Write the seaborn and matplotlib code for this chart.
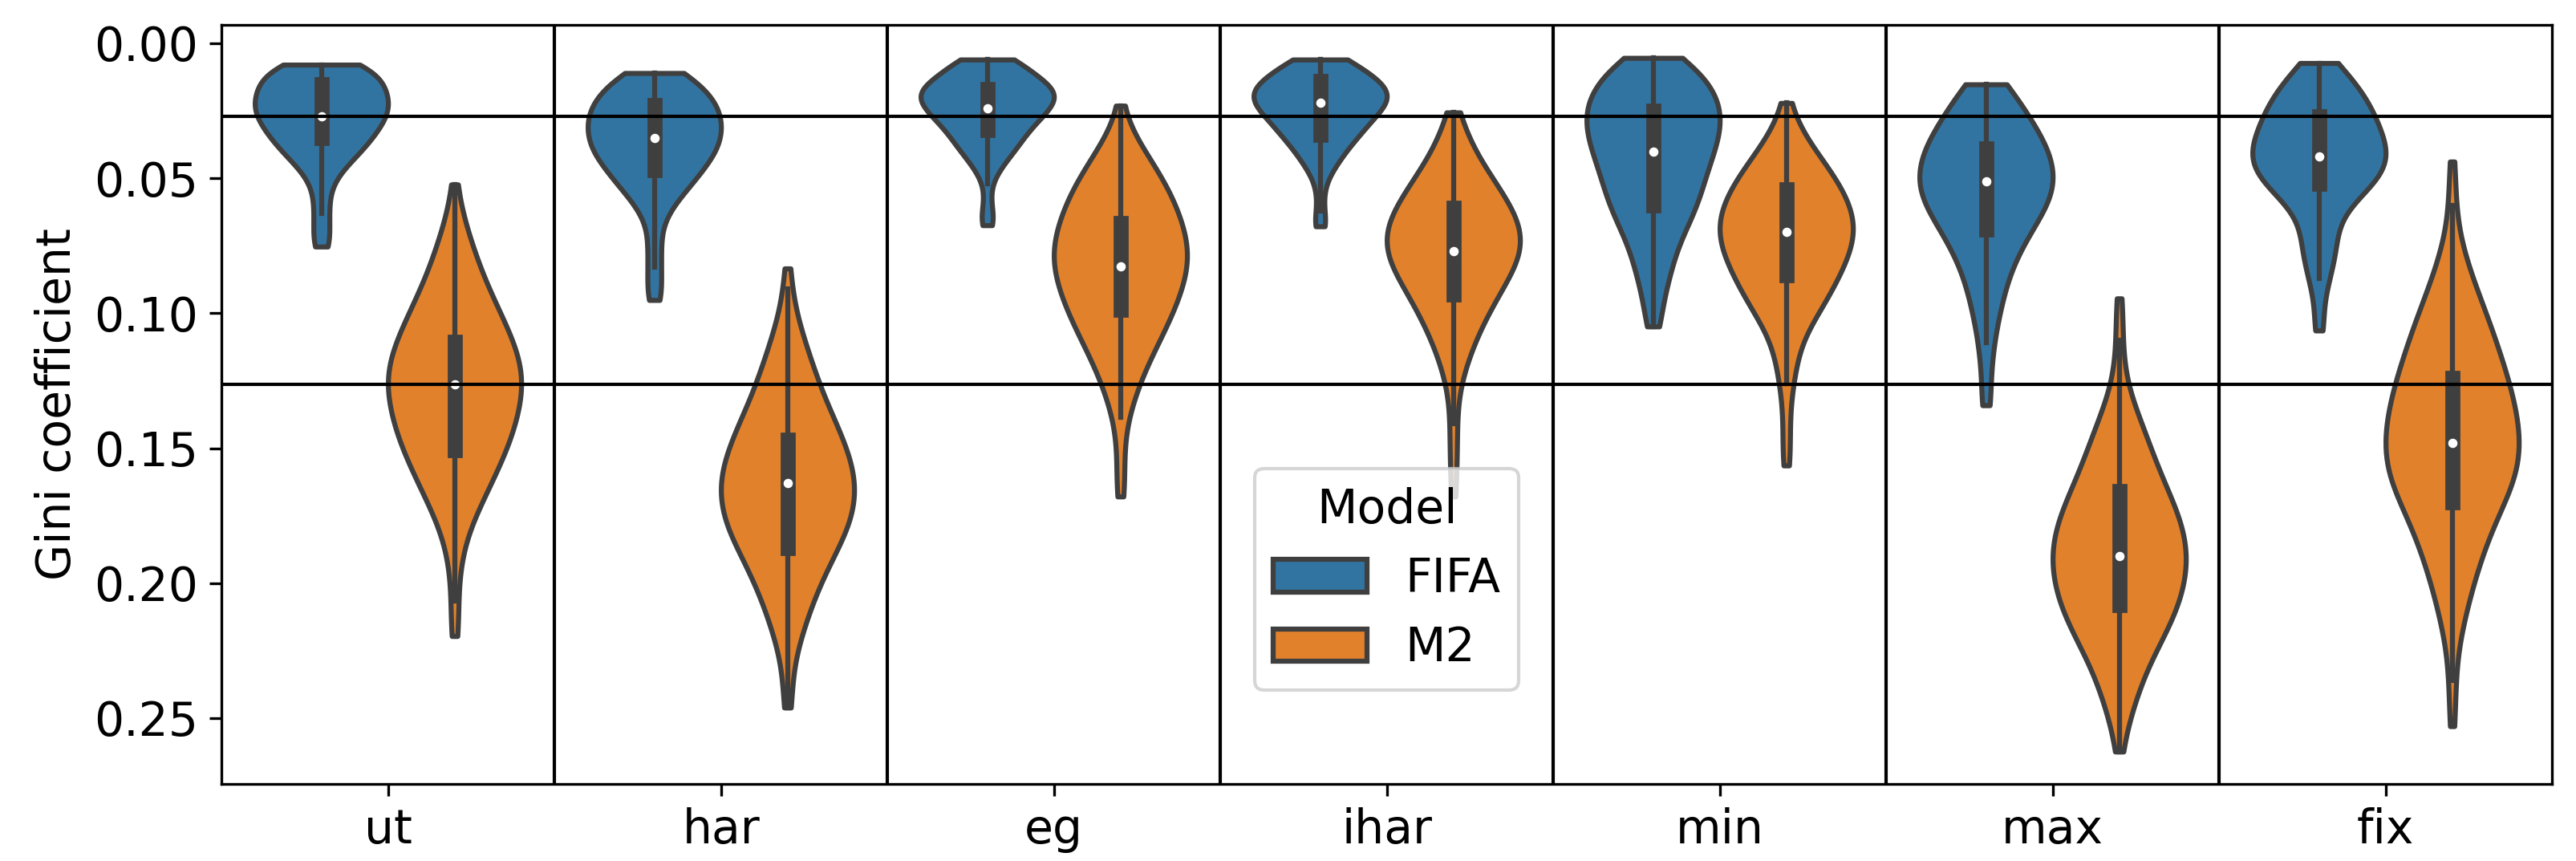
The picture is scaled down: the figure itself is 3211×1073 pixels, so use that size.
import numpy as np
import pandas as pd
import matplotlib.pyplot as plt
import seaborn as sns

# category order on the x axis
rules = ["ut", "har", "eg", "ihar", "min", "max", "fix"]
models = ["FIFA", "M2"]

# Gini coefficients: value grid + how many runs sit at each value
ut_fifa_vals = [0.0079, 0.0111, 0.0151, 0.0191, 0.0231, 0.0271, 0.0311, 0.0351, 0.0391, 0.0431,
                0.0471, 0.0511, 0.0551, 0.0591, 0.0631, 0.0671, 0.0711, 0.0753]
ut_fifa_counts = [12, 14, 16, 17, 18, 17, 15, 13, 11, 8, 5, 3, 2, 2, 2, 2, 2, 3]
ut_m2_vals = [0.0523, 0.0626, 0.0706, 0.0786, 0.0866, 0.0946, 0.1026, 0.1106, 0.1186, 0.1264, 0.1346,
              0.1426, 0.1506, 0.1586, 0.1666, 0.1746, 0.1826, 0.1906, 0.1986, 0.2066, 0.2146, 0.2196]
ut_m2_counts = [1, 2, 4, 6, 8, 11, 14, 17, 19, 20, 19, 17, 15, 12, 9, 6, 3, 2, 1, 1, 1, 1]

har_fifa_vals = [0.011, 0.015, 0.019, 0.023, 0.027, 0.031, 0.035, 0.039, 0.043, 0.047, 0.051,
                 0.055, 0.059, 0.063, 0.067, 0.071, 0.075, 0.079, 0.083, 0.087, 0.091, 0.0951]
har_fifa_counts = [12, 13, 17, 19, 20, 20, 20, 19, 17, 14, 12, 9, 6, 4, 2, 2, 2, 2, 2, 2, 2, 3]
har_m2_vals = [0.0834, 0.091, 0.099, 0.107, 0.115, 0.123, 0.131, 0.139, 0.147, 0.155, 0.163,
               0.171, 0.179, 0.187, 0.195, 0.203, 0.211, 0.219, 0.227, 0.235, 0.243, 0.2461]
har_m2_counts = [1, 1, 2, 4, 6, 8, 10, 13, 16, 18, 20, 19, 18, 14, 11, 8, 6, 4, 2, 1, 1, 1]

eg_fifa_vals = [0.006, 0.0095, 0.0135, 0.017, 0.0205, 0.0242, 0.028, 0.032, 0.036, 0.040, 0.044,
                0.048, 0.052, 0.056, 0.060, 0.064, 0.0674]
eg_fifa_counts = [9, 11, 15, 18, 19, 17, 15, 12, 10, 8, 5, 3, 1, 1, 1, 2, 2]
eg_m2_vals = [0.0231, 0.0346, 0.0426, 0.0506, 0.0586, 0.0666, 0.0746, 0.0826, 0.0906, 0.0986,
              0.1066, 0.1146, 0.1226, 0.1306, 0.1386, 0.1466, 0.1546, 0.1626, 0.1679]
eg_m2_counts = [1, 4, 8, 12, 15, 17, 19, 19, 17, 15, 12, 9, 6, 4, 2, 1, 1, 1, 1]

ihar_fifa_vals = [0.006, 0.010, 0.014, 0.018, 0.022, 0.026, 0.030, 0.034, 0.038, 0.042, 0.046,
                  0.050, 0.054, 0.058, 0.062, 0.066, 0.0678]
ihar_fifa_counts = [9, 12, 17, 20, 19, 16, 13, 11, 8, 6, 4, 2, 1, 1, 1, 1, 2]
ihar_m2_vals = [0.0256, 0.031, 0.037, 0.045, 0.053, 0.061, 0.069, 0.077, 0.085, 0.093, 0.101,
                0.109, 0.117, 0.125, 0.133, 0.141, 0.149, 0.157, 0.1679]
ihar_m2_counts = [1, 2, 4, 8, 12, 16, 19, 19, 16, 12, 9, 6, 4, 2, 1, 1, 1, 1, 1]

min_fifa_vals = [0.0054, 0.010, 0.015, 0.020, 0.025, 0.030, 0.035, 0.040, 0.045, 0.050, 0.055,
                 0.060, 0.065, 0.070, 0.075, 0.080, 0.085, 0.090, 0.095, 0.100, 0.1049]
min_fifa_counts = [10, 13, 17, 19, 20, 20, 19, 18, 16, 15, 14, 13, 11, 9, 7, 6, 5, 4, 3, 2, 3]
min_m2_vals = [0.0221, 0.030, 0.038, 0.046, 0.054, 0.062, 0.070, 0.078, 0.086, 0.094, 0.102,
               0.110, 0.118, 0.126, 0.134, 0.142, 0.150, 0.1564]
min_m2_counts = [1, 3, 7, 12, 16, 19, 20, 18, 15, 12, 8, 4, 3, 2, 1, 1, 1, 1]

max_fifa_vals = [0.0152, 0.021, 0.027, 0.033, 0.039, 0.045, 0.051, 0.057, 0.063, 0.069, 0.075,
                 0.081, 0.087, 0.093, 0.099, 0.105, 0.111, 0.117, 0.123, 0.129, 0.1341]
max_fifa_counts = [7, 9, 12, 15, 18, 19, 20, 19, 16, 13, 10, 8, 6, 5, 4, 3, 2, 2, 1, 1, 2]
max_m2_vals = [0.0945, 0.102, 0.110, 0.118, 0.126, 0.134, 0.142, 0.150, 0.158, 0.166, 0.174,
               0.182, 0.190, 0.198, 0.206, 0.214, 0.222, 0.230, 0.238, 0.246, 0.254, 0.2624]
max_m2_counts = [1, 1, 1, 1, 2, 4, 7, 9, 11, 14, 17, 19, 20, 19, 18, 15, 12, 8, 6, 4, 2, 1]

fix_fifa_vals = [0.0073, 0.012, 0.017, 0.022, 0.027, 0.032, 0.037, 0.042, 0.047, 0.052, 0.057,
                 0.062, 0.067, 0.072, 0.077, 0.082, 0.087, 0.092, 0.097, 0.102, 0.1064]
fix_fifa_counts = [6, 8, 12, 14, 16, 17, 19, 20, 19, 16, 11, 7, 5, 5, 5, 4, 3, 2, 1, 1, 2]
fix_m2_vals = [0.0438, 0.052, 0.060, 0.068, 0.076, 0.084, 0.092, 0.100, 0.108, 0.116, 0.124,
               0.132, 0.140, 0.148, 0.156, 0.164, 0.172, 0.180, 0.188, 0.196, 0.204, 0.212,
               0.220, 0.228, 0.236, 0.244, 0.2530]
fix_m2_counts = [1, 1, 1, 1, 3, 5, 7, 10, 12, 14, 16, 18, 19, 20, 20, 18, 14, 11, 9, 7, 5, 4,
                 2, 1, 1, 1, 1]

runs = {
    ("ut", "FIFA"): (ut_fifa_vals, ut_fifa_counts), ("ut", "M2"): (ut_m2_vals, ut_m2_counts),
    ("har", "FIFA"): (har_fifa_vals, har_fifa_counts), ("har", "M2"): (har_m2_vals, har_m2_counts),
    ("eg", "FIFA"): (eg_fifa_vals, eg_fifa_counts), ("eg", "M2"): (eg_m2_vals, eg_m2_counts),
    ("ihar", "FIFA"): (ihar_fifa_vals, ihar_fifa_counts), ("ihar", "M2"): (ihar_m2_vals, ihar_m2_counts),
    ("min", "FIFA"): (min_fifa_vals, min_fifa_counts), ("min", "M2"): (min_m2_vals, min_m2_counts),
    ("max", "FIFA"): (max_fifa_vals, max_fifa_counts), ("max", "M2"): (max_m2_vals, max_m2_counts),
    ("fix", "FIFA"): (fix_fifa_vals, fix_fifa_counts), ("fix", "M2"): (fix_m2_vals, fix_m2_counts),
}


def main():
    frames = []
    for (rule, model), (vals, counts) in runs.items():
        frames.append(pd.DataFrame({
            "Rule": rule,
            "Model": model,
            "Gini coefficient": np.repeat(vals, counts),
        }))
    df = pd.concat(frames, ignore_index=True)

    plt.rcParams["font.size"] = 14
    fig = plt.figure(figsize=(3211 / 300, 1073 / 300), dpi=300)
    ax = fig.add_axes([0.086, 0.0895, 0.9047, 0.8815])

    sns.violinplot(
        data=df,
        x="Rule",
        y="Gini coefficient",
        hue="Model",
        order=rules,
        hue_order=models,
        cut=0,
        density_norm="width",
        bw_adjust=0.9,
        linewidth=1.5,
        inner="box",
        inner_kws=dict(box_width=4.5, whis_width=1.5, marker="."),
        ax=ax,
    )

    # reference lines at the ut medians
    ut = df[df["Rule"] == "ut"]
    for m in models:
        ax.axhline(ut.loc[ut["Model"] == m, "Gini coefficient"].median(), color="black", lw=1)
    for i in range(len(rules) - 1):
        ax.axvline(i + 0.5, color="black", lw=1)

    ax.set_ylim(0.2744, -0.0068)
    ax.set_xlim(-0.5, len(rules) - 0.5)
    ax.set_yticks([0.0, 0.05, 0.10, 0.15, 0.20, 0.25])
    ax.set_yticklabels(["0.00", "0.05", "0.10", "0.15", "0.20", "0.25"])
    ax.set_xlabel("")
    ax.set_ylabel("Gini coefficient")
    sns.move_legend(ax, "lower center", bbox_to_anchor=(0.5, 0.124), borderaxespad=0,
                    title="Model", fontsize=14, title_fontsize=14)

    fig.savefig("out.png", dpi=300)


if __name__ == "__main__":
    main()
